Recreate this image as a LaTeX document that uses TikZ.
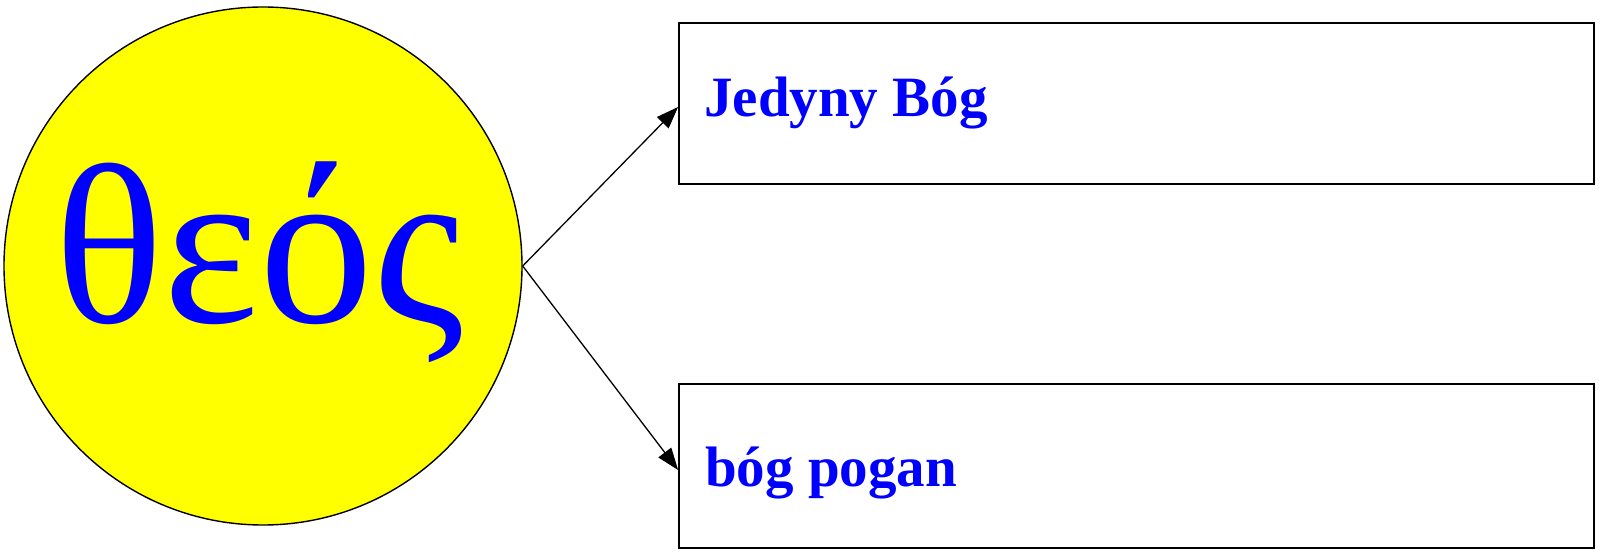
\documentclass[tikz,border=0pt]{standalone}
\usepackage{fontspec}
\setmainfont{Liberation Serif}
\usetikzlibrary{arrows.meta}
\definecolor{tblue}{RGB}{0,0,255}
\definecolor{tyellow}{RGB}{255,255,0}
\begin{document}
\begin{tikzpicture}[x=1pt,y=1pt,
  circbox/.style={circle,draw=black,line width=1.4pt,fill=tyellow,minimum size=518pt,inner sep=0pt},
  rectbox/.style={rectangle,draw=black,line width=1.8pt,fill=white,minimum width=915pt,inner sep=0pt},
  labeltext/.style={text=tblue,font=\fontsize{57}{60}\selectfont\bfseries,inner sep=0pt,anchor=base west},
  conn/.style={line width=1.3pt,-{Triangle[length=22pt,width=16pt]}}]
\useasboundingbox (0,0) rectangle (1600,554);
\node[circbox] (c) at (263,288) {};
\node[text=tblue,font=\fontsize{228}{232}\selectfont,inner sep=0pt,anchor=base] (g) at (259,231) {θεός};
\node[rectbox,minimum height=161pt] (t) at (1136.5,450.5) {};
\node[rectbox,minimum height=164pt] (b) at (1136.5,88) {};
\node[labeltext] (tl) at (704,437) {Jedyny Bóg};
\node[labeltext] (bl) at (705,67) {bóg pogan};
\draw[conn] (c.east) -- ([yshift=-3.5pt]t.west);
\draw[conn] (c.east) -- ([yshift=-4pt]b.west);
\end{tikzpicture}
\end{document}
